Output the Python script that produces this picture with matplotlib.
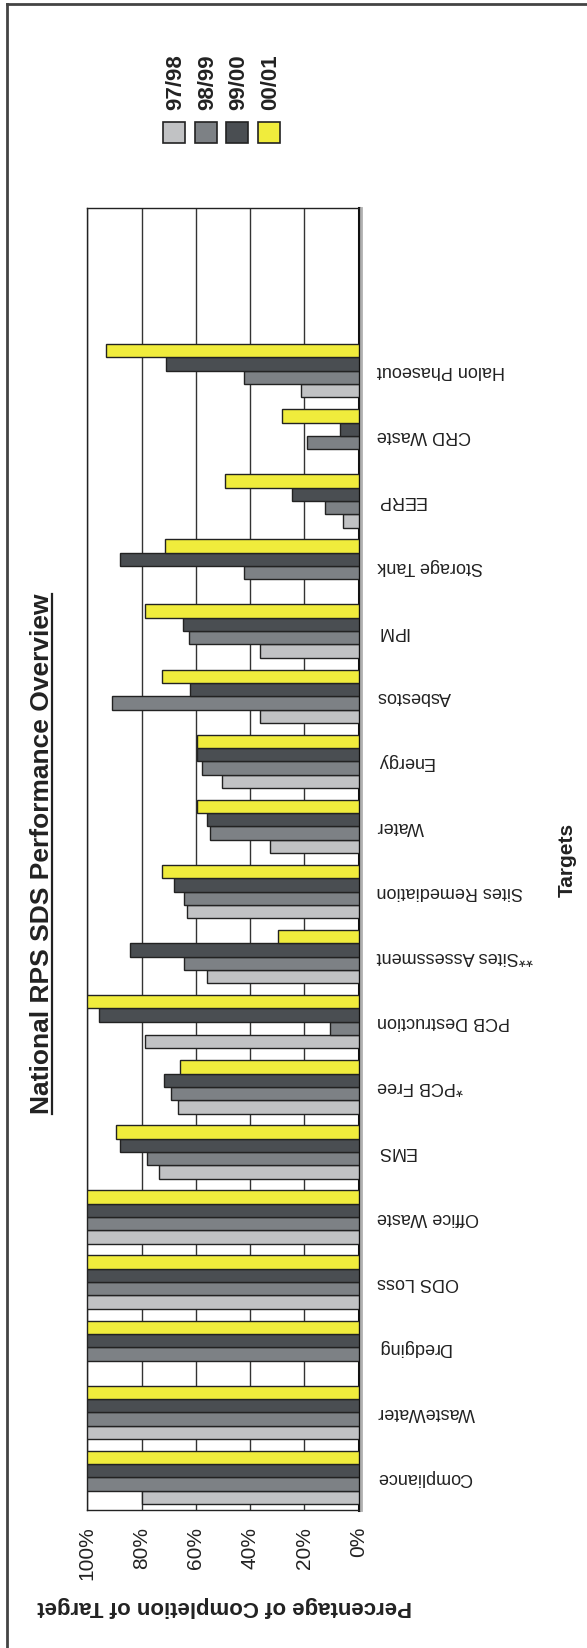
#!/usr/bin/env python3
"""National RPS SDS performance overview, drawn as the rotated page it came from."""

import numpy as np
import matplotlib

matplotlib.use("Agg")
import matplotlib.pyplot as plt
from matplotlib.lines import Line2D
from matplotlib.patches import Rectangle

plt.rcParams["font.family"] = ["Liberation Sans", "DejaVu Sans"]

categories = [
    "Compliance", "WasteWater", "Dredging", "ODS Loss", "Office Waste", "EMS",
    "*PCB Free", "PCB Destruction", "**Sites Assessment", "Sites Remediation",
    "Water", "Energy", "Asbestos", "IPM", "Storage Tank", "EERP", "CRD Waste",
    "Halon Phaseout",
]
years = ["97/98", "98/99", "99/00", "00/01"]

v9798 = [80, 100, 0, 100, 100, 73.6, 66.5, 78.6, 56.0, 63.2, 32.8, 50.5, 36.2, 36.2, 0, 5.8, 0, 21.2]
v9899 = [100, 100, 100, 100, 100, 78.1, 69.2, 10.7, 64.3, 64.3, 54.9, 57.6, 90.9, 62.6, 42.2, 12.3, 19.0, 42.2]
v9900 = [100, 100, 100, 100, 100, 88.1, 71.9, 95.8, 84.1, 68.2, 56.0, 59.6, 62.1, 64.8, 88.1, 24.4, 6.9, 70.9]
v0001 = [100, 100, 100, 100, 100, 89.5, 65.8, 100, 29.9, 72.4, 59.6, 59.6, 72.4, 78.6, 71.4, 49.4, 28.4, 93.0]
series = [v9798, v9899, v9900, v0001]

colors = ["#c1c2c4", "#7d8185", "#4a4e52", "#f0ec3c"]
pct_ticks = [0, 20, 40, 60, 80, 100]

W, H = 587, 1648
fig = plt.figure(figsize=(W / 100, H / 100), dpi=100)
ax = fig.add_axes([87.3 / W, (H - 1510) / H, 271.4 / W, 1302 / H])

y = np.arange(len(categories))
bar_h = 0.205
for k, vals in enumerate(series):
    ax.barh(y + (k - 1.5) * bar_h, vals, height=bar_h, color=colors[k],
            edgecolor="#222222", linewidth=1.0, zorder=3)

ax.set_xlim(100, 0)
ax.set_ylim(-0.5, 19.5)
ax.set_xticks(pct_ticks)
ax.set_xticklabels([f"{t}%" for t in pct_ticks], rotation=90, va="top", ha="center")
ax.tick_params(axis="x", length=0, pad=12, labelsize=15, colors="#222222")
ax.grid(axis="x", color="#333333", linewidth=1.0, zorder=0)

ax.yaxis.tick_right()
ax.set_yticks(y)
ax.set_yticklabels(categories, rotation=180, ha="left", va="center",
                   rotation_mode="default")
ax.tick_params(axis="y", length=0, pad=13, labelsize=13, colors="#222222")

for side in ["left", "top", "bottom"]:
    ax.spines[side].set_color("#222222")
    ax.spines[side].set_linewidth(1.0)
ax.spines["right"].set_color("#111111")
ax.spines["right"].set_linewidth(2.2)
ax.plot([1.009, 1.009], [0, 1], transform=ax.transAxes, color="#b0b0b0",
        linewidth=2, clip_on=False, zorder=5)

# page frame (only the top and left edges show)
fig.add_artist(Line2D([7.3 / W, 7.3 / W], [0, 1 - 4 / H], color="#444444", linewidth=2))
fig.add_artist(Line2D([7.3 / W, 1], [1 - 4 / H, 1 - 4 / H], color="#444444", linewidth=2))

# legend: squares with labels standing above them
for k, name in enumerate(years):
    cx = 174 + 31.5 * k
    fig.add_artist(Rectangle(((cx - 11) / W, 1 - 143 / H), 22 / W, 21 / H,
                             facecolor=colors[k], edgecolor="#222222", linewidth=1.2))
    fig.text((cx + 2) / W, 1 - 110 / H, name, rotation=90, ha="center", va="bottom",
             fontsize=16, fontweight="bold", color="#222222")

title = fig.text(42 / W, 1 - 854 / H, "National RPS SDS Performance Overview",
                 rotation=90, ha="center", va="center", fontsize=19,
                 fontweight="bold", color="#222222")
fig.text(567 / W, 1 - 860 / H, "Targets", rotation=90, ha="center", va="center",
         fontsize=15, fontweight="bold", color="#222222")
fig.text(225 / W, 1 - 1607 / H, "Percentage of Completion of Target", rotation=180,
         ha="center", va="center", fontsize=16, fontweight="bold", color="#222222")

# underline the title
fig.canvas.draw()
bb = title.get_window_extent(fig.canvas.get_renderer())
ux = (bb.x1 - 2) / W
fig.add_artist(Line2D([ux, ux], [bb.y0 / H, bb.y1 / H], color="#222222", linewidth=1.6))

fig.savefig("out.png", dpi=100)
